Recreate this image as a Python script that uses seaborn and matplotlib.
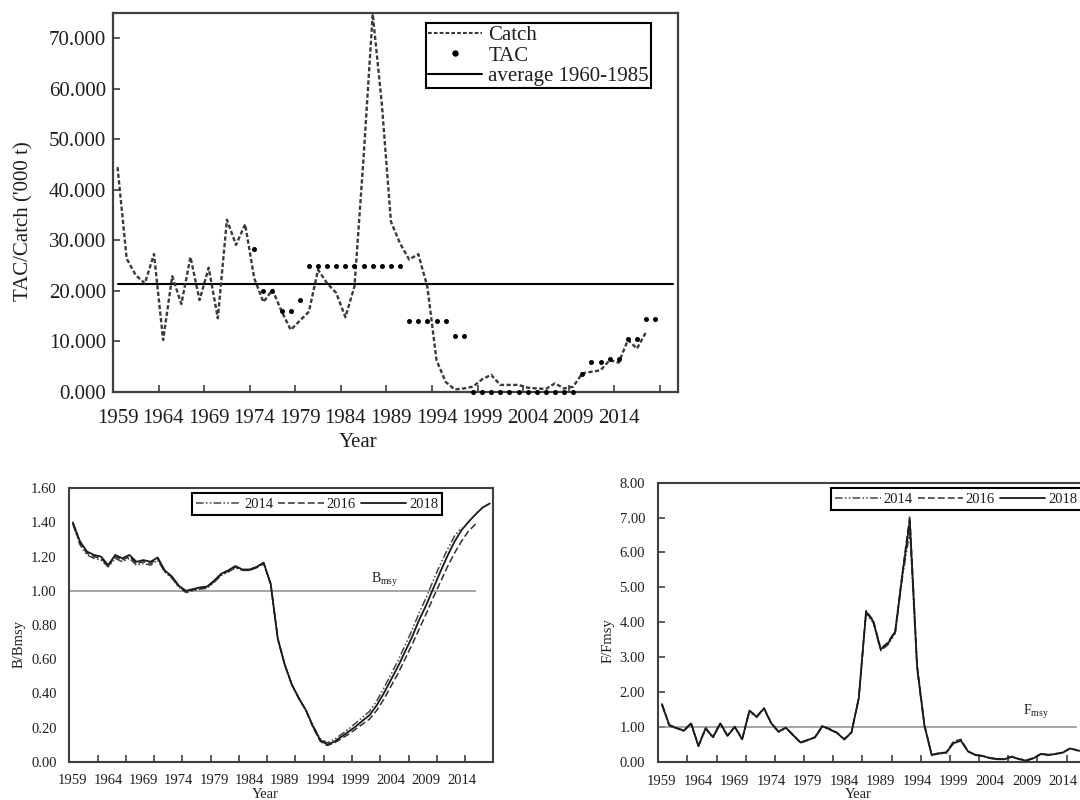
import matplotlib
matplotlib.use("Agg")
import matplotlib.pyplot as plt
import seaborn as sns
import pandas as pd
from matplotlib.lines import Line2D

# ---------------- data ----------------
catch_years = list(range(1959, 2018))
catch = [44.5, 26.4, 23.1, 21.5, 27.3, 10.3, 22.9, 17.4, 26.7, 18.2,
         24.6, 14.6, 34.1, 29.1, 33.2, 22.5, 17.8, 20.2, 16.0, 12.3,
         14.1, 15.9, 24.2, 21.5, 19.6, 14.8, 20.9, 46.5, 74.8, 57.0,
         33.7, 29.4, 26.2, 27.3, 20.8, 6.3, 2.0, 0.5, 0.7, 1.05,
         2.5, 3.4, 1.4, 1.4, 1.4, 0.85, 0.7, 0.6, 1.7, 0.7,
         1.05, 3.7, 4.0, 4.3, 6.3, 5.8, 10.3, 8.6, 11.9]
tac_years = list(range(1974, 2019))
tac = [28.2, 20.0, 20.0, 16.0, 16.0, 18.2,
       25.0, 25.0, 25.0, 25.0, 25.0, 25.0, 25.0, 25.0, 25.0, 25.0, 25.0,
       14.0, 14.0, 14.0, 14.0, 14.0,
       11.0, 11.0,
       0.0, 0.0, 0.0, 0.0, 0.0, 0.0, 0.0, 0.0, 0.0, 0.0, 0.0, 0.0,
       3.6, 6.0, 6.0, 6.6, 6.6, 10.4, 10.4, 14.4, 14.4]
avg_years = [1959, 2020]
avg_value = 21.3

b_years_2014 = list(range(1959, 2015))
b_2014 = [1.39, 1.27, 1.21, 1.19, 1.18, 1.14, 1.19, 1.17, 1.19, 1.15,
          1.16, 1.15, 1.18, 1.11, 1.075, 1.02, 0.99, 1.0, 1.01, 1.015,
          1.05, 1.09, 1.11, 1.135, 1.12, 1.12, 1.135, 1.16, 1.04, 0.72,
          0.566, 0.45, 0.37, 0.30, 0.21, 0.135, 0.11, 0.13, 0.16, 0.19,
          0.225, 0.26, 0.295, 0.355, 0.43, 0.51, 0.59, 0.68, 0.77, 0.87,
          0.96, 1.06, 1.155, 1.24, 1.32, 1.37]
b_years_2016 = list(range(1959, 2017))
b_2016 = [1.40, 1.28, 1.22, 1.20, 1.19, 1.145, 1.20, 1.18, 1.20, 1.16,
          1.17, 1.16, 1.19, 1.115, 1.08, 1.025, 0.995, 1.005, 1.015, 1.02,
          1.055, 1.095, 1.115, 1.14, 1.12, 1.12, 1.135, 1.16, 1.04, 0.72,
          0.566, 0.45, 0.37, 0.30, 0.20, 0.12, 0.095, 0.11, 0.135, 0.16,
          0.19, 0.22, 0.25, 0.30, 0.365, 0.44, 0.515, 0.60, 0.685, 0.775,
          0.865, 0.96, 1.05, 1.14, 1.22, 1.29, 1.35, 1.39]
b_years_2018 = list(range(1959, 2019))
b_2018 = [1.40, 1.29, 1.23, 1.21, 1.20, 1.15, 1.21, 1.19, 1.21, 1.17,
          1.18, 1.17, 1.195, 1.12, 1.085, 1.03, 1.00, 1.01, 1.02, 1.025,
          1.06, 1.10, 1.12, 1.145, 1.125, 1.125, 1.14, 1.165, 1.04, 0.72,
          0.566, 0.45, 0.37, 0.30, 0.205, 0.127, 0.10, 0.117, 0.146, 0.175,
          0.205, 0.24, 0.273, 0.33, 0.40, 0.478, 0.556, 0.643, 0.73, 0.829,
          0.916, 1.014, 1.111, 1.203, 1.287, 1.355, 1.404, 1.448, 1.488, 1.511]

f_years_2014 = list(range(1959, 2015))
f_2014 = [1.62, 1.03, 0.95, 0.88, 1.08, 0.44, 0.94, 0.69, 1.08, 0.73,
          0.99, 0.63, 1.44, 1.27, 1.51, 1.08, 0.85, 0.96, 0.75, 0.54,
          0.61, 0.69, 1.00, 0.92, 0.82, 0.63, 0.83, 1.80, 4.25, 3.98,
          3.18, 3.35, 3.68, 5.30, 6.60, 2.65, 1.02, 0.18, 0.23, 0.25,
          0.56, 0.63, 0.30, 0.20, 0.17, 0.11, 0.08, 0.08, 0.15, 0.08,
          0.04, 0.11, 0.23, 0.20, 0.23, 0.27]
f_years_2016 = list(range(1959, 2017))
f_2016 = [1.66, 1.06, 0.97, 0.90, 1.11, 0.46, 0.97, 0.71, 1.11, 0.75,
          1.01, 0.65, 1.47, 1.30, 1.54, 1.11, 0.87, 0.98, 0.77, 0.56,
          0.63, 0.71, 1.03, 0.94, 0.84, 0.65, 0.85, 1.84, 4.33, 4.05,
          3.25, 3.42, 3.76, 5.45, 7.05, 2.78, 1.08, 0.20, 0.25, 0.27,
          0.58, 0.64, 0.30, 0.20, 0.17, 0.11, 0.08, 0.08, 0.15, 0.08,
          0.04, 0.11, 0.23, 0.20, 0.23, 0.27, 0.39, 0.33]
f_years_2018 = list(range(1959, 2019))
f_2018 = [1.65, 1.05, 0.96, 0.89, 1.10, 0.45, 0.96, 0.70, 1.10, 0.74,
          1.00, 0.64, 1.46, 1.29, 1.53, 1.10, 0.86, 0.975, 0.76, 0.55,
          0.62, 0.70, 1.02, 0.93, 0.83, 0.64, 0.84, 1.82, 4.30, 4.02,
          3.22, 3.39, 3.73, 5.40, 6.90, 2.72, 1.05, 0.19, 0.24, 0.26,
          0.53, 0.60, 0.29, 0.19, 0.16, 0.10, 0.07, 0.07, 0.14, 0.07,
          0.03, 0.10, 0.22, 0.19, 0.22, 0.26, 0.38, 0.32, 0.30, 0.30]

ref_level = 1.0
ref_end_year = 2016
label_years = list(range(1959, 2015, 5))
top_tick_years = [y + 0.5 for y in range(1963, 2019, 5)]
bottom_tick_years = [y + 0.5 for y in range(1962, 2015, 4)]
series_labels = ["2014", "2016", "2018"]

# ---------------- style ----------------
sns.set_theme(style="white")
plt.rcParams['font.family'] = ['Liberation Serif', 'DejaVu Serif']
plt.rcParams['mathtext.fontset'] = 'custom'
plt.rcParams['mathtext.rm'] = 'Liberation Serif'
plt.rcParams['mathtext.it'] = 'Liberation Serif:italic'

TXT = '#1e1e1e'
SPINE = '#404040'

fig = plt.figure(figsize=(10.8, 8), dpi=100)


def style_spines(ax, lw):
    for s in ax.spines.values():
        s.set_visible(True)
        s.set_color(SPINE)
        s.set_linewidth(lw)


# ================= top chart =================
ax = fig.add_axes([113 / 1080, 1 - 392 / 800, 565 / 1080, 379 / 800])
catch_df = pd.DataFrame({"Year": catch_years, "Catch": catch})
tac_df = pd.DataFrame({"Year": tac_years, "TAC": tac})
sns.lineplot(data=catch_df, x="Year", y="Catch", ax=ax, color='#3a3a3a',
             lw=1.7, linestyle=(0, (1.8, 1.0)), zorder=3)
sns.scatterplot(data=tac_df, x="Year", y="TAC", ax=ax, color='black', s=13,
                marker='o', linewidth=0, zorder=4, clip_on=False)
sns.lineplot(x=avg_years, y=[avg_value] * len(avg_years), ax=ax,
             color='black', lw=1.5, zorder=2)
ax.set_xlim(1958.5, 2020.5)
ax.set_ylim(0, 75)
ax.set_xticks(label_years)
ax.set_xticklabels([str(y) for y in label_years])
ax.set_xticks(top_tick_years, minor=True)
ax.tick_params(axis='x', which='major', length=0, pad=12, labelsize=15,
               labelcolor=TXT)
ax.tick_params(axis='x', which='minor', bottom=True, direction='in', length=5,
               width=1.2, color=SPINE)
ax.set_yticks(list(range(0, 71, 10)))
ax.set_yticklabels([f"{v:.3f}" for v in range(0, 71, 10)])
ax.tick_params(axis='y', which='major', left=True, direction='in', length=5,
               width=1.2, color=SPINE, pad=5, labelsize=15, labelcolor=TXT)
style_spines(ax, 1.6)
ax.set_xlabel("Year", fontsize=15, color=TXT, va='center')
ax.xaxis.set_label_coords(0.4336, -0.132)
ax.set_ylabel("TAC/Catch ('000 t)", fontsize=15, color=TXT, va='center')
ax.yaxis.set_label_coords(-0.158, 0.45)

top_handles = [
    Line2D([], [], color='#3a3a3a', lw=1.5, linestyle=(0, (1.8, 1.0))),
    Line2D([], [], color='black', lw=0, marker='o', markersize=3.6),
    Line2D([], [], color='black', lw=1.5),
]
leg = ax.legend(top_handles, ["Catch", "TAC", "average 1960-1985"],
                loc='upper left', bbox_to_anchor=(425.7 / 1080, 1 - 23.3 / 800),
                bbox_transform=fig.transFigure, fontsize=15, frameon=True,
                fancybox=False, edgecolor='black', framealpha=1,
                handlelength=2.6, handletextpad=0.3, labelspacing=0.05,
                borderpad=0.1, borderaxespad=0, numpoints=1)
leg.get_frame().set_linewidth(1.5)
for t in leg.get_texts():
    t.set_color(TXT)

# ================= bottom styles =================
line_styles = {
    "2014": dict(color='#454545', lw=1.1, linestyle=(0, (5, 1.5, 1, 1.5, 1, 1.5))),
    "2016": dict(color='#2e2e2e', lw=1.1, linestyle=(0, (4.5, 2.0))),
    "2018": dict(color='#1a1a1a', lw=1.3, linestyle='-'),
}


def bottom_axis(ax, ymax, ystep, yticks_marks, ylabel, ylab_xy, year_xy, xpad, ypad):
    ax.set_xlim(1958.5, 2018.5)
    ax.set_ylim(0, ymax)
    ax.set_xticks(label_years)
    ax.set_xticklabels([str(y) for y in label_years])
    ax.set_xticks(bottom_tick_years, minor=True)
    ax.tick_params(axis='x', which='major', length=0, pad=xpad, labelsize=10.5,
                   labelcolor=TXT)
    ax.tick_params(axis='x', which='minor', bottom=True, direction='in',
                   length=5, width=1.2, color=SPINE)
    n = int(round(ymax / ystep))
    yt = [i * ystep for i in range(n + 1)]
    ax.set_yticks(yt)
    ax.set_yticklabels([f"{v:.2f}" for v in yt])
    ax.tick_params(axis='y', which='major', left=yticks_marks, direction='in',
                   length=5, width=1.2, color=SPINE, pad=ypad, labelsize=10.5,
                   labelcolor=TXT)
    style_spines(ax, 1.5)
    ax.set_xlabel("Year", fontsize=10.5, color=TXT, va='center')
    ax.xaxis.set_label_coords(*year_xy)
    ax.set_ylabel(ylabel, fontsize=10.5, color=TXT, va='center')
    ax.yaxis.set_label_coords(*ylab_xy)


def bottom_legend(ax, x_px, y_px):
    handles = [Line2D([], [], **line_styles[k]) for k in series_labels]
    lg = ax.legend(handles, series_labels, loc='upper left',
                   bbox_to_anchor=(x_px / 1080, 1 - y_px / 800),
                   bbox_transform=fig.transFigure, ncol=3, fontsize=10.5,
                   frameon=True, fancybox=False, edgecolor='black',
                   framealpha=1, handlelength=3.1, handletextpad=0.2,
                   columnspacing=0.35, borderpad=0.3, borderaxespad=0)
    lg.get_frame().set_linewidth(1.5)
    for t in lg.get_texts():
        t.set_color(TXT)


# ================= bottom-left: B/Bmsy =================
axb = fig.add_axes([69.3 / 1080, 1 - 761.7 / 800, 424 / 1080, 273.4 / 800])
b_sets = {"2014": (b_years_2014, b_2014), "2016": (b_years_2016, b_2016),
          "2018": (b_years_2018, b_2018)}
for k in series_labels:
    yrs, vals = b_sets[k]
    sns.lineplot(x=yrs, y=vals, ax=axb, zorder=3, **line_styles[k])
axb.hlines(ref_level, 1958.5, ref_end_year, color='#8c8c8c', lw=1.1, zorder=2)
axb.text(2003.2, 1.065, r"B$_{\mathrm{msy}}$", fontsize=10, color=TXT,
         ha='center', va='center')
bottom_axis(axb, 1.6, 0.2, False, "B/Bmsy", (-0.119, 0.43), (0.4616, -0.119),
            xpad=8.5, ypad=9)
bottom_legend(axb, 191.7, 493.3)

# ================= bottom-right: F/Fmsy =================
axf = fig.add_axes([658.3 / 1080, 1 - 761.7 / 800, 437.4 / 1080, 279 / 800])
f_sets = {"2014": (f_years_2014, f_2014), "2016": (f_years_2016, f_2016),
          "2018": (f_years_2018, f_2018)}
for k in series_labels:
    yrs, vals = f_sets[k]
    sns.lineplot(x=yrs, y=vals, ax=axf, zorder=3, **line_styles[k])
axf.hlines(ref_level, 1958.5, ref_end_year, color='#8c8c8c', lw=1.1, zorder=2)
axf.text(2010.3, 1.43, r"F$_{\mathrm{msy}}$", fontsize=10, color=TXT,
         ha='center', va='center')
bottom_axis(axf, 8.0, 1.0, True, "F/Fmsy", (-0.115, 0.433), (0.4566, -0.117),
            xpad=9.5, ypad=9.5)
bottom_legend(axf, 831, 488.3)

fig.savefig("out.png", dpi=100)
